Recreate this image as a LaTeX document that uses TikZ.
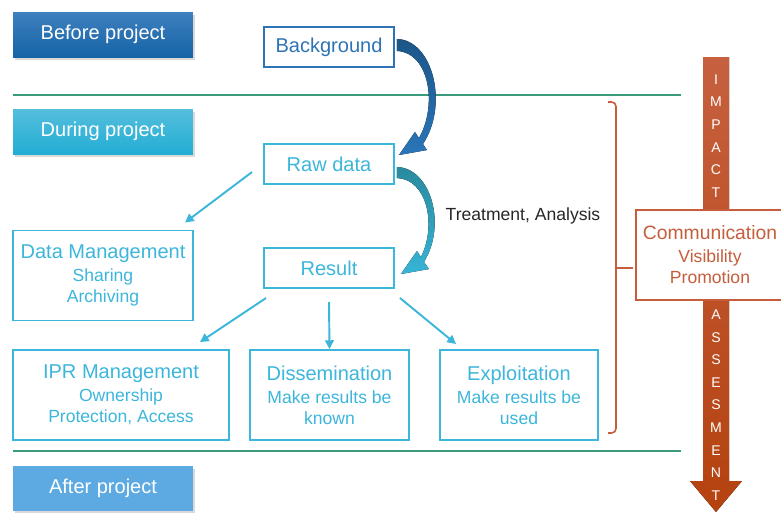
\documentclass[tikz,border=0pt]{standalone}
\usepackage{fontspec}
\setmainfont{Liberation Sans}
\usetikzlibrary{positioning, arrows.meta, shadows}
\definecolor{beforetop}{HTML}{3F80BE}
\definecolor{beforebot}{HTML}{1563A6}
\definecolor{duringtop}{HTML}{55BEDC}
\definecolor{duringbot}{HTML}{22ADD5}
\definecolor{afterblue}{HTML}{5DAAE2}
\definecolor{bgblue}{HTML}{2E74B5}
\definecolor{lightblue}{HTML}{3CB6DB}
\definecolor{sepgreen}{HTML}{399A7C}
\definecolor{impacttop}{HTML}{C6603F}
\definecolor{impactbot}{HTML}{B5420F}
\definecolor{rust}{HTML}{C65E3C}
\definecolor{navytop}{HTML}{1C5688}
\definecolor{navybot}{HTML}{2A76B8}
\definecolor{tealtop}{HTML}{2A8A9E}
\definecolor{tealbot}{HTML}{36B4D6}
\newcommand{\bigtxt}{\fontsize{11.4}{13}\selectfont}
\newcommand{\smalltxt}{\fontsize{10}{12}\selectfont}
\newcommand{\commtxt}{\fontsize{11}{14}\selectfont}
\tikzset{phase/.style={minimum width=3.6cm,minimum height=0.9cm,text=white,font=\bigtxt,
                       drop shadow={opacity=0.3,shadow xshift=1pt,shadow yshift=-1.5pt}},
         stepbox/.style={draw=lightblue,line width=1.1pt,fill=white,text=lightblue,font=\bigtxt,
                         minimum width=2.6cm,minimum height=0.8cm},
         infobox/.style={draw=lightblue,line width=1.1pt,fill=white,text=lightblue,font=\smalltxt,
                         align=center,minimum height=1.8cm,inner sep=1pt},
         link/.style={draw=lightblue,line width=1.1pt,-{Triangle[length=5pt,width=5pt]}},
         sepline/.style={draw=sepgreen,line width=1.2pt},
         letters/.style={text=white,align=center,inner sep=0pt,font=\fontsize{8}{12.85}\selectfont},
         bracket/.style={draw=rust,line width=0.9pt,rounded corners=2.5pt},
        }
\begin{document}
\begin{tikzpicture}[x=0.02cm,y=-0.02cm]
        \useasboundingbox (0,0) rectangle (781,512);

        \node[phase,top color=beforetop,bottom color=beforebot](before)at(103,34.5){Before project};
        \node[phase,top color=duringtop,bottom color=duringbot](during)at(103,131.5){During project};
        \node[phase,fill=afterblue](after)at(103,488.5){After project};
        \draw[sepline](13,95)--(681,95);
        \draw[sepline](13,451)--(681,451);

        % impact assessment arrow
        \fill[top color=impacttop,bottom color=impactbot](703,57)--(729,57)--(729,481)--(742,481)
            --(716,512)--(690,481)--(703,481)--cycle;
        \node[letters](impact)at(716,136){I\\M\\P\\A\\C\\T};
        \node[letters](assess)at(716,405){A\\S\\S\\E\\S\\M\\E\\N\\T};
        \node[draw=rust,line width=1.1pt,fill=white,text=rust,font=\smalltxt,align=center,
              minimum width=2.96cm,minimum height=1.8cm,inner sep=1pt](comm)at(710,255)
              {{\commtxt Communication}\\[1pt]Visibility\\Promotion};
        \draw[bracket](608,102)-|(616,433)--(608,433);
        \draw[bracket](616,268)--(633,268);

        \node[stepbox,draw=bgblue,text=bgblue](bg)at(329,47){Background};
        \node[stepbox](raw)at(329,164){Raw data};
        \node[stepbox](res)at(329,268){Result};
        \node[font=\smalltxt,text=black!85](treat)at(523,216){Treatment, Analysis};

        \fill[top color=navytop,bottom color=navybot]
            ([shift={(2,-8)}]bg.east)..controls +(36,1) and +(26,-39)..([shift={(28,-20)}]raw.east)
            --([shift={(32,-14)}]raw.east)--([shift={(4,-9)}]raw.east)--([shift={(20,-32)}]raw.east)
            --([shift={(24,-26)}]raw.east)..controls +(19,-33) and +(32,1)..([shift={(2,4)}]bg.east)--cycle;
        \fill[top color=tealtop,bottom color=tealbot]
            ([shift={(2,3)}]raw.east)..controls +(34,1) and +(23,-37)..([shift={(29,-6)}]res.east)
            --([shift={(34,1)}]res.east)--([shift={(6,6)}]res.east)--([shift={(22,-17)}]res.east)
            --([shift={(26,-11)}]res.east)..controls +(16,-32) and +(30,1)..([shift={(2,14)}]raw.east)--cycle;

        \node[infobox,minimum width=3.6cm](dm)at(103,275.5){{\bigtxt Data Management}\\[1pt]Sharing\\Archiving};
        \node[infobox,minimum width=4.32cm](ipr)at(121,395){{\bigtxt IPR Management}\\[1pt]Ownership\\Protection, Access};
        \node[infobox,minimum width=3.18cm](diss)at(329.5,395){{\bigtxt Dissemination}\\[1pt]Make results be\\known};
        \node[infobox,minimum width=3.16cm](expl)at(519,395){{\bigtxt Exploitation}\\[1pt]Make results be\\used};

        \draw[link]([shift={(-11,8)}]raw.west)--([shift={(-9,-7)}]dm.north east);
        \draw[link]([shift={(3,9)}]res.south west)--([shift={(-30,-7)}]ipr.north east);
        \draw[link]([shift={(0,13)}]res.south)--(diss.north);
        \draw[link]([shift={(5,9)}]res.south east)--([shift={(17,-5)}]expl.north west);
    \end{tikzpicture}
\end{document}
